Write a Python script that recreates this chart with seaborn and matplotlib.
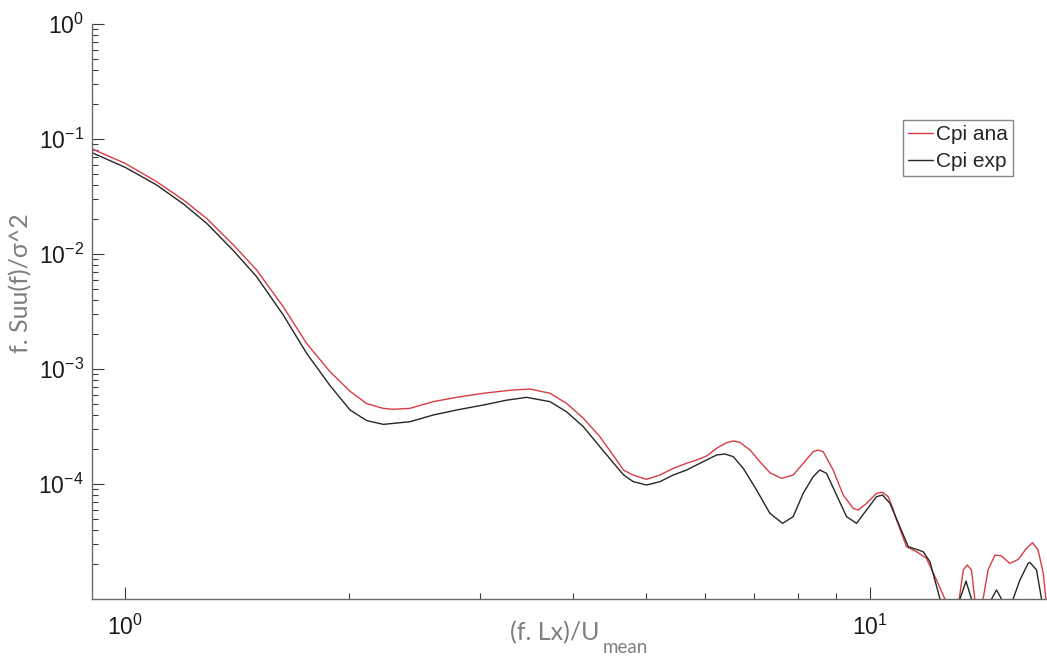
import numpy as np
import pandas as pd
import matplotlib
matplotlib.use("Agg")
import matplotlib.pyplot as plt
import seaborn as sns
from matplotlib.ticker import LogLocator, FixedLocator, NullFormatter, LogFormatterSciNotation

# ---------------- data ----------------
series_names = ["Cpi ana", "Cpi exp"]

ana_x = [0.903, 1.00, 1.103, 1.198, 1.287, 1.398, 1.502, 1.631, 1.753, 1.884,
         2.005, 2.111, 2.22, 2.29, 2.413, 2.593, 2.787, 3.027, 3.30, 3.497, 3.72, 3.915,
         4.124, 4.34, 4.57, 4.67, 4.81, 5.013, 5.225, 5.445, 5.674, 5.852, 6.036,
         6.226, 6.421, 6.556, 6.692, 6.904, 7.117, 7.341, 7.610, 7.889, 8.137,
         8.392, 8.522, 8.656, 8.928, 9.209, 9.498, 9.645, 9.897, 10.21, 10.40,
         10.58, 10.72, 10.86, 11.20, 11.55, 11.91, 12.29, 12.61, 12.90, 13.18, 13.35,
         13.51, 13.69, 13.83, 14.00, 14.19, 14.41, 14.72, 15.02, 15.41, 15.82,
         16.23, 16.53, 16.82, 17.09, 17.23, 17.40]
ana_y = [0.082, 0.0615, 0.0425, 0.0295, 0.0204, 0.0120, 0.00726, 0.00348, 0.00167, 0.00095,
         0.00064, 0.00050, 0.000455, 0.000446, 0.000455, 0.00052, 0.000567, 0.000615, 0.000655, 0.00067, 0.000615, 0.000503,
         0.000373, 0.000258, 0.0001617, 0.000132, 0.0001197, 0.0001098, 0.0001197, 0.0001368, 0.0001512, 0.0001617, 0.0001751,
         0.0002042, 0.0002288, 0.0002365, 0.0002303, 0.0001975, 0.0001564, 0.0001254, 0.0001120, 0.0001197, 0.0001512,
         0.0001911, 0.0001975, 0.0001911, 0.0001323, 8.02e-05, 6.14e-05, 5.94e-05, 6.79e-05, 8.29e-05, 8.46e-05,
         7.76e-05, 6.3e-05, 4.86e-05, 2.85e-05, 2.58e-05, 2.26e-05, 1.46e-05, 1.0e-05, 3.0e-06, 1.0e-05, 1.79e-05,
         1.975e-05, 1.79e-05, 1.0e-05, 3.0e-06, 1.0e-05, 1.79e-05, 2.41e-05, 2.37e-05, 2.04e-05, 2.21e-05,
         2.76e-05, 3.09e-05, 2.67e-05, 1.67e-05, 1.0e-05, 3.0e-06]

exp_x = [0.903, 1.00, 1.103, 1.198, 1.287, 1.398, 1.502, 1.631, 1.753, 1.884,
         2.005, 2.111, 2.223, 2.413, 2.593, 2.787, 3.027, 3.25, 3.461, 3.72, 3.915, 4.124,
         4.34, 4.57, 4.67, 4.81, 5.013, 5.225, 5.445, 5.674, 5.852, 6.036, 6.226,
         6.390, 6.556, 6.761, 7.045, 7.341, 7.635, 7.889, 8.137, 8.392, 8.567,
         8.745, 9.021, 9.304, 9.596, 9.897, 10.21, 10.40, 10.64, 10.97, 11.26,
         11.55, 11.79, 12.04, 12.42, 12.80, 13.21, 13.46, 13.69, 14.10, 14.57,
         14.79, 15.02, 15.30, 15.57, 15.90, 16.31, 16.40, 16.74, 17.00, 17.40]
exp_y = [0.076, 0.0568, 0.0398, 0.0272, 0.0185, 0.0107, 0.00635, 0.00295, 0.00137, 0.00072,
         0.00044, 0.000356, 0.00033, 0.000348, 0.000398, 0.00044, 0.000486, 0.000535, 0.000567, 0.00052, 0.000425, 0.000315,
         0.000211, 0.0001415, 0.00012, 0.000105, 9.8e-05, 0.0001048, 0.0001197, 0.0001323, 0.0001463, 0.0001617, 0.0001788,
         0.0001824, 0.0001728, 0.0001368, 8.87e-05, 5.56e-05, 4.55e-05, 5.20e-05, 8.29e-05, 0.0001158, 0.0001323,
         0.0001238, 8.02e-05, 5.20e-05, 4.55e-05, 5.94e-05, 7.76e-05, 8.02e-05, 6.79e-05, 4.26e-05, 2.85e-05,
         2.70e-05, 2.58e-05, 2.11e-05, 1.0e-05, 3.0e-06, 1.0e-05, 1.43e-05, 1.0e-05, 3.0e-06, 1.0e-05,
         1.20e-05, 1.0e-05, 3.0e-06, 1.0e-05, 1.46e-05, 2.04e-05, 2.08e-05, 1.79e-05, 1.0e-05, 3.0e-06]

x_major_ticks = [1, 10]
y_major_ticks = [1e-4, 1e-3, 1e-2, 1e-1, 1e0]

# ---------------- styling ----------------
sns.set_style("white")
plt.rcParams["font.family"] = ["Liberation Sans", "DejaVu Sans"]
plt.rcParams["axes.unicode_minus"] = False

df = pd.concat([
    pd.DataFrame({"x": ana_x, "y": ana_y, "series": series_names[0]}),
    pd.DataFrame({"x": exp_x, "y": exp_y, "series": series_names[1]}),
], ignore_index=True)

W, H = 1047, 660
fig = plt.figure(figsize=(W / 100, H / 100), dpi=100)
L, R, T, B = 92, 1047, 24, 599
ax = fig.add_axes([L / W, (H - B) / H, (R - L) / W, (B - T) / H])
ax.set_xscale("log")
ax.set_yscale("log")

sns.lineplot(data=df, x="x", y="y", hue="series", hue_order=series_names,
             palette={"Cpi ana": "#d83c46", "Cpi exp": "#262626"},
             sort=False, estimator=None, linewidth=1.0, ax=ax)

ax.set_xlim(0.903, 17.29)
ax.set_ylim(1e-5, 1e0)

for s in ["top", "right"]:
    ax.spines[s].set_visible(False)
for s in ["left", "bottom"]:
    ax.spines[s].set_color("#6a6a6a")
    ax.spines[s].set_linewidth(1.0)

ax.xaxis.set_major_locator(FixedLocator(x_major_ticks))
ax.xaxis.set_minor_locator(LogLocator(base=10, subs=np.arange(2, 10), numticks=20))
ax.xaxis.set_minor_formatter(NullFormatter())
ax.xaxis.set_major_formatter(LogFormatterSciNotation())
ax.yaxis.set_major_locator(FixedLocator(y_major_ticks))
ax.yaxis.set_minor_locator(LogLocator(base=10, subs=np.arange(2, 10), numticks=20))
ax.yaxis.set_minor_formatter(NullFormatter())
ax.yaxis.set_major_formatter(LogFormatterSciNotation())

ax.tick_params(which="major", direction="in", length=8.6, width=0.8, color="#3a3a3a",
               labelsize=16.5, labelcolor="#1a1a1a")
ax.tick_params(which="minor", direction="in", length=4.3, width=0.8, color="#3a3a3a")
ax.tick_params(axis="y", which="major", pad=6)
ax.tick_params(axis="x", which="major", pad=11)
ax.tick_params(axis="both", which="both", bottom=True, left=True, top=False, right=False)

ax.set_xlabel("")
ax.set_ylabel("")

lab_font = ["Lato", "DejaVu Sans"]
gray = "#7f7f7f"
# x label with subscript
fig.text(600 / W, (H - 640) / H, "(f. Lx)/U", ha="right", va="baseline",
         fontsize=18, color=gray, family=lab_font)
fig.text(603 / W, (H - 653) / H, "mean", ha="left", va="baseline",
         fontsize=13.5, color=gray, family=lab_font)
# y label
fig.text(21 / W, (H - 283) / H, "f. Suu(f)/σ^2", rotation=90, ha="center", va="center",
         fontsize=18, color=gray, family=lab_font)

leg = ax.legend(loc="lower right", bbox_to_anchor=((1013 - L) / (R - L), (B - 176) / (B - T)),
                borderaxespad=0, frameon=True, fancybox=False, shadow=False,
                fontsize=15, handlelength=1.2, handletextpad=0.15, borderpad=0.25,
                labelspacing=0.35, title=None)
leg.get_frame().set_edgecolor("#6a6a6a")
leg.get_frame().set_linewidth(1.0)
leg.get_frame().set_facecolor("white")
for line in leg.get_lines():
    line.set_linewidth(1.0)

fig.savefig("out.png", dpi=100)
